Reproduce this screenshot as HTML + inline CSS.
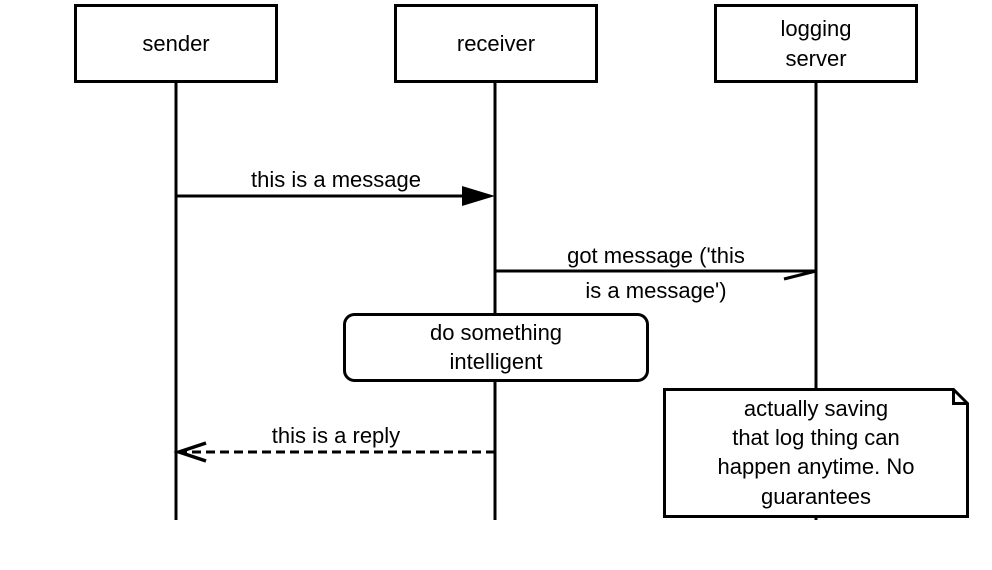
<!DOCTYPE html>
<html><head><style>html,body{margin:0;padding:0;background:#fff}svg{display:block}text{font-family:"Liberation Sans",Arial,sans-serif;font-size:22px;fill:#000;text-anchor:middle}</style></head><body>
<svg width="992" height="570" viewBox="0 0 992 570" xmlns="http://www.w3.org/2000/svg">
<g stroke="#000" stroke-width="3" fill="none">
<line x1="176" y1="81" x2="176" y2="520"/>
<line x1="495" y1="81" x2="495" y2="520"/>
<line x1="816" y1="81" x2="816" y2="520"/>
<rect x="75.5" y="5.5" width="201" height="76" fill="#fff"/>
<rect x="395.5" y="5.5" width="201" height="76" fill="#fff"/>
<rect x="715.5" y="5.5" width="201" height="76" fill="#fff"/>
<line x1="176" y1="196" x2="465" y2="196"/>
<line x1="495" y1="271" x2="816" y2="271"/>
<line x1="784" y1="279" x2="816" y2="271"/>
<rect x="344.5" y="314.5" width="303" height="66" rx="10" fill="#fff"/>
<line x1="495" y1="452" x2="180" y2="452" stroke-dasharray="9,5"/>
<polyline points="206,443 179,452 206,461" stroke-width="3.5"/>
<path d="M664.5 389.5 H953.5 L967.5 403.5 V516.5 H664.5 Z" fill="#fff"/>
<path d="M953.5 389.5 V403.5 H967.5"/>
</g>
<polygon points="462,186 495,196 462,206" fill="#000"/>
<text x="176" y="51">sender</text>
<text x="496" y="51">receiver</text>
<text x="816" y="36">logging</text>
<text x="816" y="66">server</text>
<text x="336" y="187">this is a message</text>
<text x="656" y="263">got message ('this</text>
<text x="656" y="298">is a message')</text>
<text x="496" y="340">do something</text>
<text x="496" y="369">intelligent</text>
<text x="336" y="443">this is a reply</text>
<text x="816" y="416">actually saving</text>
<text x="816" y="445">that log thing can</text>
<text x="816" y="474">happen anytime. No</text>
<text x="816" y="504">guarantees</text>
</svg>
</body></html>
